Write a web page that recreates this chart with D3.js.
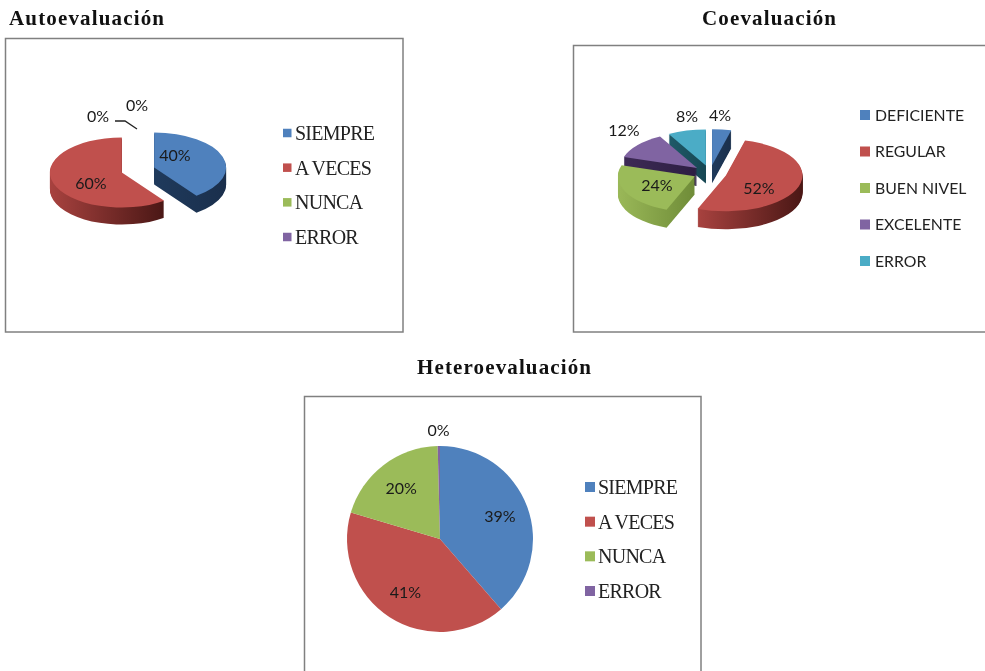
<!DOCTYPE html>
<html><head><meta charset="utf-8">
<script src="https://cdn.jsdelivr.net/npm/d3@7"></script>
<style>html,body{margin:0;padding:0;background:#fff;overflow:hidden}svg{display:block;filter:blur(.45px)}</style>
</head><body><svg id="c" width="985" height="671"></svg>
<script>
// Data
const autoCategories = ["SIEMPRE","A VECES","NUNCA","ERROR"];
const autoValues = [40,60,0,0];
const coCategories = ["DEFICIENTE","REGULAR","BUEN NIVEL","EXCELENTE","ERROR"];
const coValues = [4,52,24,12,8];
const heteroCategories = ["SIEMPRE","A VECES","NUNCA","ERROR"];
const heteroValues = [38.6,41,20,0.4];
const palette = ["#4f81bd","#c0504d","#9bbb59","#8064a2","#4bacc6"];

// Layout and style, separate from the data
const sideStops = [
  ["#1f3a5c","#1a2f4c"],["#a8423f","#4a1715"],["#9ab858","#6f8c38"],["#3d2a55","#2d1e42"],["#1f5a68","#174753"]
];
const svg = d3.select("#c");
const defs = svg.append("defs");
const SERIF = "'Liberation Serif',serif", SANS = "Lato,'Open Sans',sans-serif";
const fmt = v => Math.round(v) + "%";

function frame(x,y,w,h){
  svg.append("rect").attr("x",x).attr("y",y).attr("width",w).attr("height",h)
    .attr("fill","#fff").attr("stroke","#808080").attr("stroke-width",1.5);
}
function title(t,x,y,anchor,width){
  svg.append("text").text(t).attr("x",x).attr("y",y).attr("text-anchor",anchor)
    .attr("font-family",SERIF).attr("font-weight","bold").attr("font-size",21)
    .attr("textLength",width).attr("lengthAdjust","spacing").attr("fill","#111");
}
function legend(cats,o){
  const y = d3.scalePoint().domain(cats).range([o.y0,o.y1]);
  const g = svg.append("g");
  cats.forEach((c,i)=>{
    g.append("rect").attr("x",o.x).attr("y",y(c)-o.s/2).attr("width",o.s).attr("height",o.s).attr("fill",palette[i]);
    g.append("text").text(c).attr("x",o.tx).attr("y",y(c)).attr("dy","0.35em")
      .attr("font-family",o.font).attr("font-size",o.size).attr("letter-spacing",o.ls).attr("fill","#222");
  });
}
function label(t,x,y,size,font){
  svg.append("text").text(t).attr("x",x).attr("y",y).attr("dy","0.35em").attr("text-anchor","middle")
    .attr("font-family",font||SANS).attr("font-size",size||16).attr("fill","#1a1a1a");
}
const pieGen = d3.pie().sort(null);

function pie3d(id,values,o){
  const arcs = pieGen(values);
  const arc = d3.arc().innerRadius(0).outerRadius(1);
  const place = d => {
    const m = (d.startAngle+d.endAngle)/2;
    return [o.cx + o.e*Math.sin(m), o.cy - o.e*Math.cos(m)*o.ry/o.rx];
  };
  arcs.forEach((d,i)=>{
    const g = defs.append("linearGradient").attr("id",id+"s"+i);
    g.append("stop").attr("offset","0").attr("stop-color",sideStops[i][0]);
    g.append("stop").attr("offset","1").attr("stop-color",sideStops[i][1]);
  });
  const order = arcs.map((d,i)=>i).filter(i=>arcs[i].value>0)
    .sort((a,b)=>place(arcs[a])[1]-place(arcs[b])[1]);
  const steps = d3.range(o.depth,0,-1);
  order.forEach(i=>{
    const d = arcs[i], [px,py] = place(d), g = svg.append("g");
    g.selectAll("path.side").data(steps).join("path").attr("class","side")
      .attr("d",arc(d))
      .attr("transform",s=>`translate(${px},${py+s}) scale(${o.rx},${o.ry})`)
      .attr("fill",`url(#${id}s${i})`);
    g.append("path").attr("d",arc(d))
      .attr("transform",`translate(${px},${py}) scale(${o.rx},${o.ry})`)
      .attr("fill",palette[i]);
  });
}

// Autoevaluación
title("Autoevaluación",9,25,"start",155);
frame(5.5,38.5,397.5,293.5);
pie3d("a",autoValues,{cx:138,cy:170,rx:72,ry:35,e:17,depth:17});
label("40%",175,155); label("60%",91,183);
label("0%",98,116); label("0%",137,105);
svg.append("path").attr("d",d3.line()([[115,121],[125,121],[137,129]])).attr("fill","none").attr("stroke","#222").attr("stroke-width",1.3);
legend(autoCategories,{x:283,s:8.5,tx:295,y0:133,y1:237,font:SERIF,size:20,ls:-0.75});

// Coevaluación
title("Coevaluación",769,25,"middle",134);
frame(573.5,45.5,430,286.5);
pie3d("c",coValues,{cx:710,cy:173,rx:77,ry:36,e:16.7,depth:18});
label("4%",720,115); label("52%",759,188); label("24%",657,185); label("12%",624,130); label("8%",687,116);
legend(coCategories,{x:860,s:10,tx:875,y0:115,y1:261,font:SANS,size:15.8,ls:0});

// Heteroevaluación
title("Heteroevaluación",504,374,"middle",174);
frame(304.5,396.5,396.5,290);
const hArc = d3.arc().innerRadius(0).outerRadius(93);
const hLabel = d3.arc().innerRadius(64).outerRadius(64);
const hOut = d3.arc().innerRadius(109).outerRadius(109);
const hG = svg.append("g").attr("transform","translate(440,539)");
const hData = pieGen(heteroValues);
hG.selectAll("path").data(hData).join("path").attr("d",hArc).attr("fill",(d,i)=>palette[i]);
hData.forEach(d=>{
  const [x,y] = (d.value<1?hOut:hLabel).centroid(d);
  label(fmt(d.value),440+x,539+y);
});
legend(heteroCategories,{x:585,s:10,tx:598,y0:487,y1:591,font:SERIF,size:20,ls:-0.75});
</script></body></html>
